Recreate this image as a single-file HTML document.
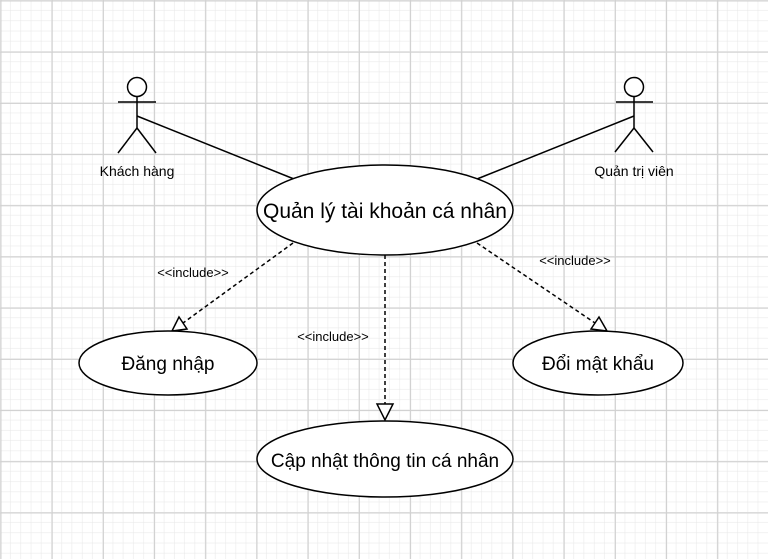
<!DOCTYPE html>
<html><head><meta charset="utf-8"><style>
html,body{margin:0;padding:0;width:768px;height:559px;overflow:hidden;background:#fff}
</style></head><body>
<svg width="768" height="559" xmlns="http://www.w3.org/2000/svg" font-family="Liberation Sans, DejaVu Sans, sans-serif">
<defs>
<pattern id="minor" width="10.24" height="10.24" patternUnits="userSpaceOnUse">
<path d="M10.24 0V10.24M0 10.24H10.24" stroke="#e6e6e6" stroke-width="1" fill="none"/>
</pattern>
<pattern id="major" width="51.2" height="51.2" patternUnits="userSpaceOnUse" x="0.5" y="0.5">
<rect width="51.2" height="51.2" fill="url(#minor)"/>
<path d="M0 0V51.2M0 0H51.2" stroke="#d0d0d0" stroke-width="2" fill="none"/>
</pattern>
</defs>
<rect width="768" height="559" fill="url(#major)"/>

<g stroke="#000" stroke-width="1.5" fill="none">
<circle cx="137" cy="87" r="9.5" fill="#fff"/>
<line x1="137" y1="97" x2="137" y2="128"/>
<line x1="118" y1="102" x2="156" y2="102"/>
<line x1="137" y1="128" x2="118" y2="153"/>
<line x1="137" y1="128" x2="156" y2="153"/>
<circle cx="634" cy="87" r="9.5" fill="#fff"/>
<line x1="634" y1="97" x2="634" y2="128"/>
<line x1="616" y1="102" x2="653" y2="102"/>
<line x1="634" y1="128" x2="615" y2="152"/>
<line x1="634" y1="128" x2="653" y2="152"/>
<line x1="137" y1="116" x2="294" y2="179"/>
<line x1="634" y1="116" x2="477" y2="179"/>
<line x1="293" y1="243" x2="183" y2="323" stroke-dasharray="4,3"/>
<line x1="385" y1="255" x2="385" y2="404" stroke-dasharray="4,3"/>
<line x1="477" y1="243" x2="595" y2="323" stroke-dasharray="4,3"/>
<polygon points="172,331 187,329 179,317" fill="#fff"/>
<polygon points="385,420 377,404 393,404" fill="#fff"/>
<polygon points="607,331 591,329 599,317" fill="#fff"/>
<ellipse cx="385" cy="210" rx="128" ry="45" fill="#fff"/>
<ellipse cx="168" cy="363" rx="89" ry="32" fill="#fff"/>
<ellipse cx="598" cy="363" rx="85" ry="32" fill="#fff"/>
<ellipse cx="385" cy="459" rx="128" ry="38" fill="#fff"/>
</g>

<g fill="#000" text-anchor="middle">
<text x="137" y="176" font-size="14">Khách hàng</text>
<text x="634" y="176" font-size="14">Quản trị viên</text>
<text x="385" y="218" font-size="21">Quản lý tài khoản cá nhân</text>
<text x="168" y="370" font-size="19">Đăng nhập</text>
<text x="598" y="370" font-size="19">Đổi mật khẩu</text>
<text x="385" y="467" font-size="19">Cập nhật thông tin cá nhân</text>
<text x="193" y="277" font-size="13">&lt;&lt;include&gt;&gt;</text>
<text x="333" y="341" font-size="13">&lt;&lt;include&gt;&gt;</text>
<text x="575" y="265" font-size="13">&lt;&lt;include&gt;&gt;</text>
</g>
</svg>
</body></html>
